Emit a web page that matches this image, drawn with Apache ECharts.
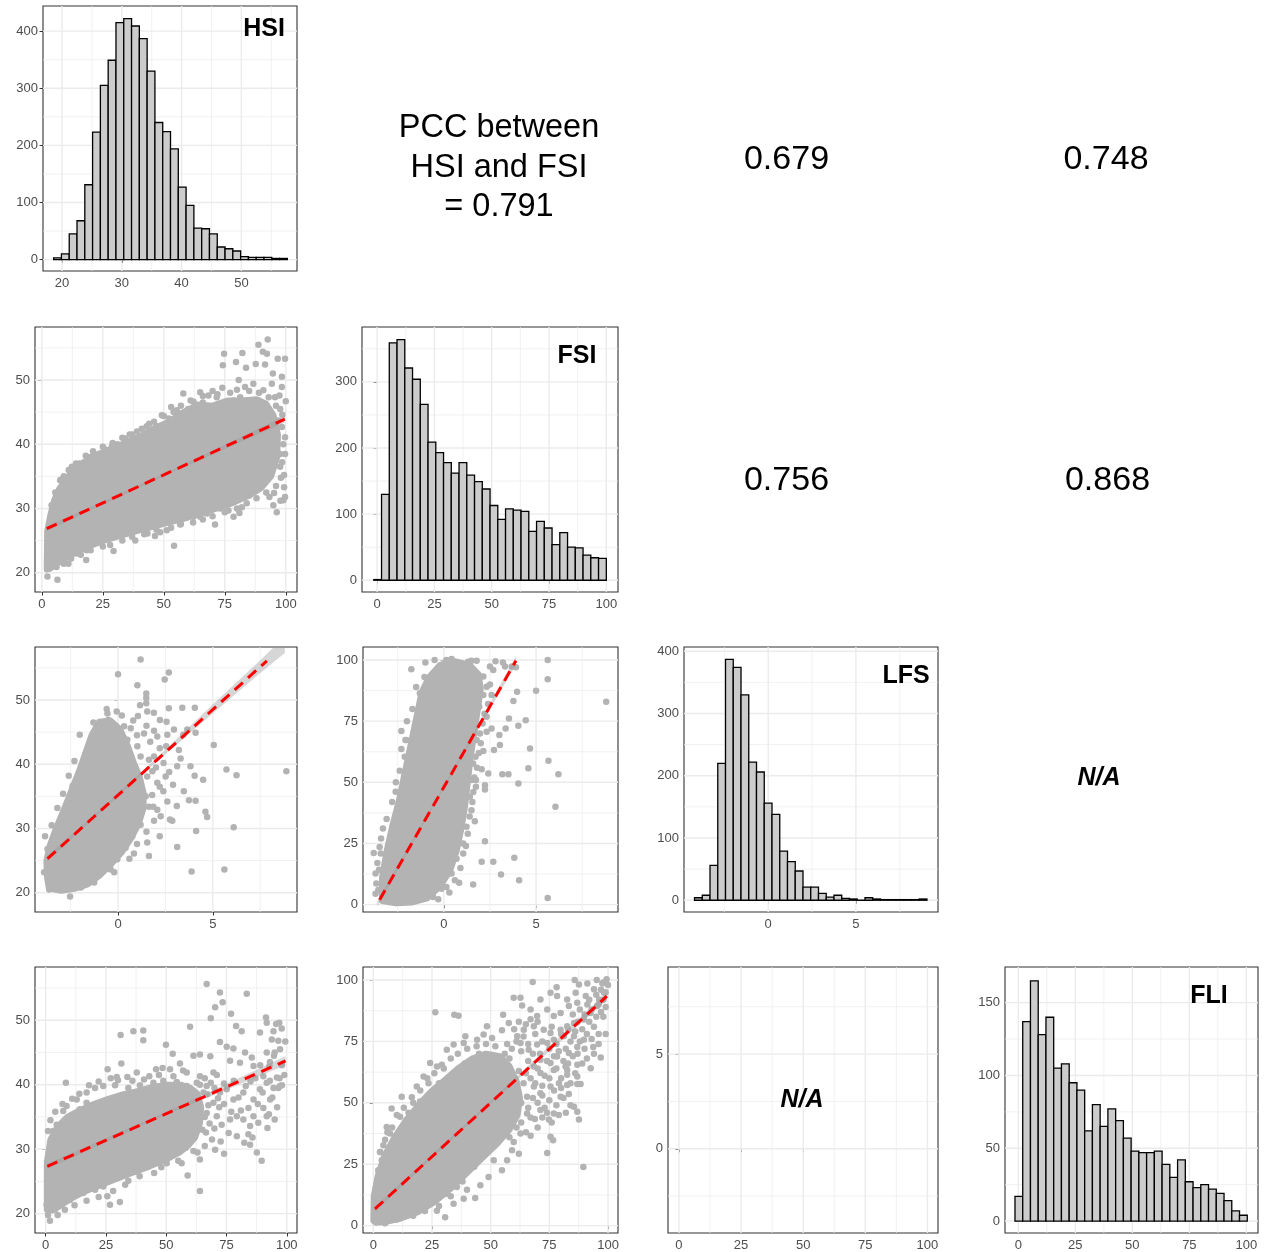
<!DOCTYPE html>
<html>
<head>
<meta charset="utf-8">
<script src="https://cdn.jsdelivr.net/npm/echarts@6/dist/echarts.min.js"></script>
<style>
  html, body { margin: 0; padding: 0; background: #ffffff; }
  #chart { width: 1267px; height: 1252px; }
</style>
</head>
<body>
<div id="chart"></div>
<script>
// ---------- histogram data: first bin edge, bin width, counts ----------
const hsiBinStart = 18.6, hsiBinWidth = 1.303;
const hsiCounts = [3, 10, 45, 68, 131, 223, 305, 349, 415, 422, 409, 387, 330, 240, 224, 194, 127, 95, 55, 54, 45, 22, 19, 15, 5, 4, 4, 4, 2, 2];

const fsiBinStart = -1.46, fsiBinWidth = 3.382;
const fsiCounts = [1, 130, 359, 364, 321, 304, 266, 209, 193, 178, 162, 178, 159, 149, 138, 113, 92, 108, 106, 104, 74, 89, 79, 54, 72, 50, 49, 38, 34, 33];

const lfsBinStart = -4.2, lfsBinWidth = 0.4417;
const lfsCounts = [4, 8, 56, 220, 387, 374, 330, 222, 206, 156, 138, 79, 62, 47, 21, 21, 11, 5, 8, 3, 2, 0, 4, 2, 1, 1, 1, 1, 1, 2];

const fliBinStart = -1.46, fliBinWidth = 3.395;
const fliCounts = [17, 137, 165, 128, 140, 105, 108, 95, 90, 62, 80, 65, 77, 69, 57, 48, 47, 47, 48, 39, 30, 42, 27, 23, 25, 22, 19, 14, 7, 4];

// ---------- tick labels ----------
const hsiTicks = [20, 30, 40, 50], hsiMinor = [25, 35, 45, 55];
const pctTicks = [0, 25, 50, 75, 100], pctMinor = [12.5, 37.5, 62.5, 87.5];
const lfsTicks = [0, 5], lfsMinor = [-2.5, 2.5, 7.5];
const count400Ticks = [0, 100, 200, 300, 400], count400Minor = [50, 150, 250, 350];
const count300Ticks = [0, 100, 200, 300], count300Minor = [50, 150, 250, 350];
const count150Ticks = [0, 50, 100, 150], count150Minor = [25, 75, 125];

// ---------- scatter: FSI (x) vs HSI (y) ----------
// dense core outline, then individual points around it
const coreFsiHsi = [[2,20.5],[4,20.8],[7,21.6],[10,22.3],[15,23.4],[20,24.2],[25,24.9],[30,25.5],[40,26.6],[50,27.6],[60,28.6],[70,29.8],[78,30.8],[85,32],[90,33.2],[94,35],[96.5,38],[96.8,41.5],[95,44.5],[92,46.3],[88,47],[82,46.8],[76,46.8],[70,46],[64,46.2],[58,45],[52,43.5],[46,42.5],[40,41.2],[34,40.2],[28,39.2],[22,38.3],[17,37.2],[13,36],[10,34.6],[7,33],[5,31.2],[3.5,29],[2.2,26.5]];
const ptsFsiHsi = [[74.7,54.1],[74.2,52.3],[88.8,55.5],[92.6,56.3],[82.2,54.2],[90.6,54.4],[92.3,54.1],[79.6,52.8],[83.7,51.9],[91.5,52.4],[96.7,53.3],[99.7,53.3],[87.7,52.5],[80.7,50.0],[94.7,51.0],[98.4,50.5],[98.4,48.9],[100,46.7],[99.7,41.1],[99.7,38.5],[99.3,35.2],[99.3,33.3],[99.7,31.8],[99,31.3],[94.9,30.5],[96.3,29.4],[93.3,31.8],[89.5,33.9],[86.7,33.1],[84.7,32.0],[82,30.2],[78.6,28.7],[81,29.3],[76.5,29.7],[71,27.5],[64.9,28.7],[62.2,28.7],[58.7,28.9],[56.7,27.5],[54.2,24.2],[46.4,25.7],[43.3,26.1],[38.3,25.0],[29.4,23.4],[18.4,23.5],[13.7,23.9],[18.2,22.0],[2.3,19.4],[6.4,18.9],[3.1,20.6],[5.5,21.1],[8.9,21.9],[10.9,21.4],[14.3,23.0],[23.9,24.8],[30,25.6],[34.8,26.5],[40.3,26.8],[48.5,26.3],[51.2,26.6],[67.6,29.2],[73.1,30],
  [7.5,34.4],[12.3,36.5],[19.8,38.0],[23.9,38.5],[28.7,39.6],[34.2,40.9],[41,42.4],[47.1,42.8],[49.2,44.5],[55.3,45.3],[58,47.9],[62.2,46.6],[64.9,48.1],[68.3,47.6],[71.7,47.3],[77.2,48.0],[81.3,47.3],[83.3,48.9],[86.7,49.4],[90.8,48.4],[94.3,49.4],[95.6,47.3],[88.8,46.8],[78.6,46.8],[84.7,45.8],[92.2,45.5],[97.7,45.5],[97,43.7],[98.4,42.7],[94.9,42.7],[92.2,42.2],[89.5,40.3],[94.9,39.6],[97.7,38.5],[97.7,36.5],[86.7,37.5],[88.1,35.9],[82.7,34.9],[78.6,33.3],[84,39.0],[75.8,43.7],[73.1,42.2],[79.2,42.2],[82.7,43.7],[86.7,43.7],
  [4,30.5],[5.5,32.5],[9,35],[15.5,37],[26,39.2],[31,40],[37,41.5],[44,43.2],[52,44],[53,45.8],[60,45.5],[66,46.5],[70,48.3],[74,48.8],[76,46.2],[94.5,37.7],[91,38.5],[96,41],[90,44.5],
  [8,34.5],[11,36],[14,37],[18,38.2],[21,38.9],[25,39.6],[29,40.2],[33,41],[36,41.5],[39,42],[43,42.8],[46,43.5],[50,44.4],[54,45],[57,46],[61,46.8],[66,47.5],[72,47.8],[80,48.5],[85,48.3],[89,48],[93,47.3],[96,46],
  [6,20.9],[9,21.4],[12,22.2],[16,22.8],[20,23.5],[25,24.1],[28,24.3],[33,25],[37,25.6],[42,26],[47,26.7],[53,27],[57,27.6],[62,27.8],[66,28.3],[70,28.8],[75,29.4],[80,30],[84,30.8],[88,31.6],[92,32.5],[96,33.5],[98,34.8],
  [98.5,37.2],[99,40],[98.6,44.6],[97.4,47.6],[95.2,32.4],[97.8,31.2]];
const fitFsiHsi = [[2,26.85],[99.6,43.9]];
const bandFsiHsi = [[2,26.5,27.2],[50,35.05,35.35],[99.6,43.4,44.4]];

// ---------- scatter: LFS (x) vs HSI (y) ----------
const coreLfsHsi = [[-3.65,20.7],[-3.0,20.3],[-2.3,20.6],[-1.6,21.3],[-1.0,22.6],[-0.4,24.3],[0.2,26.3],[0.7,28.5],[1.1,30.8],[1.35,33.2],[1.35,35.5],[1.15,38],[0.8,40.5],[0.5,43],[0.1,45.5],[-0.4,46.8],[-1.0,46.6],[-1.4,44.5],[-1.7,42],[-2.05,39],[-2.45,36],[-2.85,33],[-3.25,30.2],[-3.6,27.4],[-3.78,25],[-3.75,22.5]];
const ptsLfsHsi = [[1.19,56.3],[0,54.0],[2.68,54.3],[2.46,53.2],[1.02,52.3],[1.49,51.0],[1.49,50.3],[1.16,49.2],[1.49,49.5],[3.39,48.8],[2.68,48.7],[4.05,48.8],[1.54,48.2],[1.89,48.0],[1.05,47.5],[-0.56,47.9],[-0.07,48.2],[-0.51,46.9],[-2.02,44.6],[-1.09,45.3],[-0.47,45.3],[0.32,45.9],[0.67,45.6],[1.37,44.8],[2.21,46.9],[2.56,46.6],[2.95,45.4],[3.65,45.4],[4.09,44.9],[3.44,44.6],[2.6,44.6],[2.07,44.3],[2.54,42.8],[3.21,42.2],[3.3,40.9],[3.12,39.7],[3.82,39.7],[5.05,43.0],[5.72,39.2],[6.25,38.3],[8.88,38.9],[4.04,38.2],[4.49,37.6],[2.51,38.1],[2.07,37.1],[2.39,35.8],[3.47,35.8],[3.74,34.4],[4.09,34.3],[1.86,33.4],[2.25,31.9],[2.07,32.9],[2.74,31.4],[2.86,31.2],[4.12,29.6],[4.61,32.6],[4.7,31.8],[6.1,30.2],[3.12,27.1],[1.54,27.8],[1.63,25.7],[0.84,26.1],[3.88,23.3],[5.61,23.6],
  [-3.72,26.8],[-3.67,24.4],[-3.63,20.5],[-2.53,19.4],[-1.88,21.7],[-1.53,22.2],[-0.95,23.1],[-0.56,24.6],[-1.7,22.5],[-3.02,21.9],[-3.23,23.6],[-3.42,26.2],[-2.93,27.7],[-3.37,28.3],[-2.96,28.5],[-2.96,31.8],[-2.58,32.0],[-2.4,33.1],[-2.11,35],[-2.4,36.6],[-1.96,37.6],[-1.82,38.1],[-1.58,41],[-1.35,42.5],[-0.91,42.2],[-0.91,44.0],[-0.12,44.3],[0.49,43.8],[1.02,42.8],[1.19,41.2],[1.63,40.7],[1.81,38.9],[1.54,38.1],[1.19,36.5],[1.46,35],[1.63,33.4],[1.19,30.6],[0.75,28.8],[0.4,27],[-0.04,25.2],[-0.39,23.6],[-1.26,21.6],[-1.96,20.8],
  [-1.3,46.5],[-0.6,48.6],[0.2,47.6],[0.8,46.8],[1.5,46],[1.9,45.2],[1.0,44.5],[1.7,43.5],[2.2,42.5],[1.9,41.2],[2.4,40.2],[2.0,39.5],[2.7,38.8],[2.2,36.5],[2.9,36.8],[1.8,35.2],[2.6,34.2],[3.1,33.5],[1.9,31.2],[1.5,29.5],[2.2,28.8],[-2.3,40.5],[-2.6,38.2],[-2.9,35.4],[-3.2,33.2],[-3.5,30.5],[-3.85,28.8],[-3.9,23.2],[-0.2,23.2],[0.6,25.3],[1.0,27.6]];
const fitLfsHsi = [[-3.72,25.3],[7.85,56.1]];
const bandLfsHsi = [[-3.75,24.85,25.75],[-1,32.35,32.75],[2,40.3,40.9],[5,47.9,49.3],[7.5,54.2,56.2],[8.8,57.3,59.9]];

// ---------- scatter: LFS (x) vs FSI (y) ----------
const coreLfsFsi = [[-3.35,1.5],[-2.6,0.6],[-1.7,0.9],[-0.9,2.6],[-0.2,7.5],[0.35,14],[0.7,22],[0.95,31],[1.15,40],[1.3,50],[1.45,60],[1.65,70],[1.85,80],[2.0,88],[1.9,94],[1.4,98],[0.6,99.5],[-0.2,98],[-0.8,93],[-1.2,87],[-1.45,78],[-1.7,69],[-1.95,60],[-2.2,51],[-2.45,42],[-2.8,32],[-3.1,22],[-3.35,11]];
const ptsLfsFsi = [[-1.76,96.2],[0.05,98.6],[0.14,100],[0.42,100.4],[0.92,98.6],[1.32,99.3],[1.5,99.7],[1.78,99.7],[2.5,97.3],[2.68,95.9],[3.32,97.3],[3.68,97.3],[3.91,97],[5.63,100],[5.63,92.1],[5.0,87.4],[3.97,87],[3.77,83.2],[3.53,76.1],[4.44,75.4],[4.04,73.1],[3.35,72],[3.01,69.3],[3.04,65.2],[4.67,63.8],[2.72,63.2],[2.14,62.8],[5.67,58.8],[4.58,55.7],[2.05,55.3],[2.41,53.6],[3.17,53.3],[3.5,53.3],[4.04,49.5],[6.21,53.3],[6.05,40],[2.23,48.8],[2.23,47.1],[1.74,48.2],[1.68,34.1],[2.23,25.9],[2.05,17.5],[2.68,17.5],[3.82,19.2],[3.1,12.3],[4.08,10],[1.59,8.2],[0.83,9.0],[5.63,2.7],[8.8,82.9],[-3.3,31.1],[-3.42,20.9],[-3.8,21.1],[-3.48,23.6],[-3.7,12.7],[-3.66,8.6],[-3.7,4.5],[-3.51,14.3],[-2.3,63.6],[-2.08,67.3],[-2.12,60.4],[-2.39,54.7],[-2.61,46.1],[-2.52,39.3],[-1.3,86.4],[-1.21,83.6],[-1.3,80.9],[-1.39,77.5],[-1.58,70],[-2.03,67.3],
  [2.14,93.2],[2.32,89.1],[2.14,85.7],[2.59,85.7],[1.92,80.9],[2.32,76.8],[2.59,72],[1.96,70],[2.32,70.7],[1.78,67.3],[1.72,60.4],[1.59,57.7],[1.5,50.9],[1.74,50.9],[1.41,44.1],[1.5,38.6],[1.23,31.8],[1.05,25],[1.05,20.9],[0.69,18.8],[0.42,12.7],[0.14,7.2],[-0.13,6.5],[-0.58,3.1],
  [-0.76,91.8],[-0.4,95.2],[-0.22,97.3],[0.87,95.9],[1.23,93.2],[0.51,91.8],[0.69,89.1],[-0.85,86.4],[-0.76,87.7],
  [2.5,90],[2.4,82],[2.2,78],[2.1,74],[2.0,66],[1.9,62],[1.8,56],[1.65,52],[1.6,46],[1.55,42],[1.4,36],[1.3,29],[1.2,24],[0.9,15],[0.6,10],[0.3,5],[-0.3,2.2],[-2.3,71],[-2.0,75],[-1.7,80],[-1.5,89],[-1.05,93],[-2.6,50],[-2.8,42],[-3.1,35],[-3.4,27],[-3.6,17],[-3.55,6],[-1.0,99],[-0.5,100],[2.8,99.5],[3.2,99]];
const fitLfsFsi = [[-3.48,2.0],[3.91,99.7]];
const bandLfsFsi = [[-3.6,-0.8,1.8],[-1,34.3,35.5],[1,60.6,61.8],[3.91,98,101.5]];

// ---------- scatter: FLI (x) vs HSI (y) ----------
const coreFliHsi = [[0.5,20.6],[3,20.5],[6,21.2],[10,22.2],[15,23.2],[20,24],[28,25.2],[35,26.2],[43,27.3],[50,28.4],[56,29.6],[59,30.5],[62,31.8],[64,34],[64.5,36.5],[63,38.6],[60,39.5],[56,40],[50,40],[44,39.6],[38,39],[32,38.5],[26,37.8],[20,37],[14,36],[9,35],[5,33.5],[2,31.5],[0.5,28]];
const ptsFliHsi = [[66.8,55.6],[72.3,54.3],[73.4,52.8],[83.4,54.1],[70.3,52],[68.5,50.3],[76.9,51],[79,49.1],[81.3,48.3],[59.9,49],[36.4,48.3],[40.5,48.4],[40.5,46.9],[31.1,47.7],[49.9,46.2],[52.7,44.8],[8.4,40.3],[25.7,42.4],[31.4,43.3],[29.5,41.2],[33.9,41.2],[37.8,41.9],[40.8,40.8],[45.8,42.4],[48.5,42.6],[51.6,42.4],[55.7,43.3],[61.3,44.5],[64,44.7],[68.3,44.4],[72.3,46.6],[75.1,45.9],[77.9,45.6],[82.7,45],[85.5,44.2],[86.2,42.9],[80.6,43.4],[76.5,43.7],[69.6,41.9],[64,41.3],[58.5,41.9],[88.9,48.1],[91.7,49.6],[91.4,50.4],[95.6,49.4],[96.9,49.6],[97.9,48.7],[94.5,48.3],[99.4,46.7],[96.5,46.8],[93.8,47],[97.2,45.5],[91.7,45],[94.7,44.5],[92.8,42.9],[95.9,41.1],[91.7,40.3],[96.5,39.5],[94.5,39.5],[97.2,39.8],[90.3,41.3],[88.9,39.3],[86.2,37.7],[84.1,36.4],[82,34.6],[84.8,33.6],[86.2,35.1],[88.2,34.1],[91.7,35.1],[92.6,35.4],[93.1,37.7],[90.3,36.4],[84.1,32.3],[85.8,31.8],[84.8,30.7],[82.4,31],[79.3,32],[75.9,32.5],[72.6,31.2],[70.3,29.9],[74,29.3],[87.6,29.5],[89.6,28.2],[76.5,34.6],[79.3,35.1],[71,35.1],[66.8,35.6],[69.6,37.2],[77.9,37.7],[82,38.8],[75.1,39.3],[64,28.4],[61.3,29.7],[58.9,25.9],[64,23.5],[56.4,27.8],[50.2,27.8],[43.3,27.6],[41.2,28.9],[37.8,26.5],[34.3,25.1],[30.8,21.8],[25.6,22.7],[26.7,21.4],[23.9,24.2],[23.2,25],[20.5,23.7],[19.8,24.8],[15.6,23.2],[10.1,22.1],[7.3,22.7],[5.3,22.2],[1.8,18.9],[3.9,20.7],[0.4,21.4],[1.1,22.7],[14.2,24.2],[12.2,25.3],
  [4.6,33.8],[3.2,32.8],[7.3,35.9],[8.7,36.7],[12.9,37.7],[17,38.8],[20.5,39.5],[23.9,39.8],[28.8,39.9],[34.3,39.5],[39.1,39.9],[44.7,40.3],[48.8,40.6],[54.4,40.4],[58.5,39.8],[62.7,40.3],[66.8,39.8],[72.3,38.8],[17,37.2],[14.2,36.2],
  [60,32],[62,34],[63,36.5],[61,38],[64,40],[66,41],[67,38.5],[68,34],[69,31.5],[65,33],[70,39.5],[72,36.5],[73,33.8],[71,41.5],[74,40.2],[74,37],[77,35.8],[78,40.6],[80,38],[81,36],[83,39.8],[85,40.5],[87,41],[89,43],[93,43.5],[95,45],[98,43],[99,41.5],[97,41],[93,40.6],[88,37],[90,38.8],[94,38],[96,36.5],[92,33.3],[95,34.6],[98,39.9],[57,42.2],[53,41.3],[47,41.5],[43,41.3],[36,40.6],[30,40.7],[27,41],[22,40.5],[18,39.9],[14,38.6],[11,37.8],[7,37],[4,35.8],[2,34.5],[1,32.8],[58,30.2],[63,29.5],[66,30.5],[55,28.2],[48,27.2],[45,26.3],[39,25.8],[33,24.5],[28,23.5],[22,22.6],[17,22],[12,21.3],[8,20.6],[5,19.8],[1,19.8],
  [66,35],[67.5,36.8],[66.5,32.6],[65.5,38.8],[68.5,40.3],[70,33.2],[71.5,37.9]];
const fitFliHsi = [[0.7,27.35],[99.5,43.7]];
const bandFliHsi = [[0.7,26.95,27.75],[50,35.35,35.75],[99.5,43.0,44.4]];

// ---------- scatter: FLI (x) vs FSI (y) ----------
const coreFliFsi = [[0,2],[0.2,12],[1.8,20],[4.5,28],[9,36],[14,43],[20,50],[25,55],[30,59],[36,64],[42,68],[48,70],[54,69],[58,65],[61,59],[62.5,52],[61.5,45],[58,39],[53,33.5],[47,28],[40,21.5],[33,15],[26,9.5],[19,5.5],[12,3],[6,1.6],[1,1.2]];
const ptsFliFsi = [[67.9,99.2],[78.1,97.1],[85.8,100],[87.6,98.2],[91.2,98.6],[95.2,100],[97.6,98.6],[99.4,100.3],[94,96.2],[90.5,93.5],[86.2,94.8],[82.6,92.1],[78.3,93.5],[75.5,94.8],[71.2,92.1],[63.4,89.6],[59.8,92.8],[55.3,85.9],[57.7,82.5],[54.8,79.5],[48.4,81.2],[50.6,76.4],[47,77.8],[44.2,75.7],[39.2,77.1],[38.5,74.4],[34.2,73.7],[31.3,71.6],[26.4,86.9],[34.5,85.9],[36.3,85.5],[24.2,66.2],[27.1,64.8],[29.2,65.5],[21.4,60.7],[23.5,58],[18.5,56.6],[12.1,52.5],[16.4,52.3],[19.9,50.5],[7.8,47.7],[11.4,44.3],[14.2,43],[5.7,40.2],[7.1,37.5],[4.3,32.7],[2.8,30],[3.6,26.6],[2.1,22.5],[62.7,92.8],[67,88],[69.8,85.3],[74.1,88],[76.9,85.3],[79.8,86.6],[83.3,89.4],[86.9,90.7],[91.2,90],[95.4,89.4],[98.3,94.8],[96.2,92.1],[92.6,86.6],[89.7,83.9],[85.5,82.5],[82.6,81.2],[79.8,79.8],[75.5,78.4],[72.6,79.8],[68.4,81.2],[64.1,79.8],[61.3,77.1],[62.7,74.4],[66.2,71.6],[69.8,73.7],[74.1,74.4],[76.9,75.7],[81.2,77.1],[85.5,77.1],[89.7,75.7],[93.7,72.7],[86.9,72.7],[83.3,70.3],[78.3,68.9],[75.5,66.2],[71.2,67.5],[68.4,64.8],[71.2,62.1],[76.9,63.4],[81.9,64.8],[86.9,65.5],[96.9,68.5],[92.6,64.1],[86.9,60.7],[82.6,63.4],[82.6,61.4],[79.1,58],[82.6,57.3],[86.9,57.7],[88.3,57.7],[83.3,53.6],[79.8,52.5],[75.5,56.6],[71.2,53.9],[68.4,56.6],[65.5,52.5],[62.7,49.8],[65.5,45.7],[71.2,47.1],[76.9,45.7],[85.5,48.4],[86.9,46.4],[87.6,43.2],[74.8,43.2],[68.8,43.4],[75.5,36.2],[67,36.6],[62.7,37.5],[59.8,34.1],[59.1,30.7],[62,29.3],[57,26.6],[51.3,26.6],[54.8,22.5],[49.1,19.8],[45.6,16.4],[43.4,11.3],[39.9,14.6],[38.5,10.9],[74.1,29.6],[76.6,34.8],[89.5,23.9],[30.6,3.4],[27.1,6.1],[24.2,10.2],[34.2,8.9],[31.3,13],[35.6,15.7],[14.2,10.2],[7.8,7.5],[3.6,4.8],
  [60,60],[62,63],[64,58],[65,62],[66,67],[67,60],[68,70],[69,58],[70,64],[71,70],[72,75],[72,57],[73,61],[74,67],[75,72],[75,60],[76,81],[77,69],[78,64],[78,74],[79,71],[80,78],[80,60],[81,67],[82,72],[83,80],[83,66],[84,75],[85,86],[85,69],[86,79],[87,83],[87,70],[88,75],[88,88],[89,80],[90,86],[90,72],[91,78],[92,83],[92,92],[93,88],[93,76],[94,81],[95,94],[95,85],[96,90],[96,78],[97,96],[97,87],[98,92],[98,99],[99,95],[99,89],[100,98],
  [56,70],[57,74],[58,68],[59,72],[61,75],[63,71],[64,77],[60,80],[62,83],[65,82],[67,84],[70,83],[66,74],[69,78],[58,52],[60,47],[63,50],[66,48],[68,52],[70,50],[72,53],[73,48],[75,51],[77,55],[78,49],[80,56],[81,52],[84,58],[86,62],[89,66],[91,68],[94,70],[96,74],[99,78],[98,85],
  [55,40],[58,36],[61,40],[63,42],[65,38],[67,44],[70,40],[72,44],[74,46],[76,42],[79,45],[82,46],[84,49],[50,35],[46,30],[43,24],[38,18],[33,12],[28,8],[22,6],[17,4],[10,2.5],[5,1],
  [3,30],[5,35],[8,40],[10,45],[13,48],[17,50],[20,55],[23,60],[26,62],[30,64],[33,68],[36,70],[40,72],[44,73],[48,74],[52,73],[15,46],[6,38],[28,58],[34,62],[39,66],[45,70]];
const fitFliFsi = [[0.7,6.8],[99.5,93.4]];
const bandFliFsi = [[0.7,5.8,7.8],[50,49.7,50.7],[99.5,91.8,95]];

// ---------- correlation texts ----------
const pccMain = ['PCC between', 'HSI and FSI', '= 0.791'];
const pccValues = { hsiLfs: '0.679', hsiFli: '0.748', fsiLfs: '0.756', fsiFli: '0.868' };
const naLabel = 'N/A';

// ---------- drawing ----------
const FONT = '"Liberation Sans", Arial, Helvetica, sans-serif';
const GRID_COLOR = '#EBEBEB';
const POINT_COLOR = '#B3B3B3';

// panel rectangles [left, top, width, height] and axis extents
const panels = [
  { rect: [43, 6, 254, 265],    x: [16.82, 59.3],  y: [-20, 444],    xt: hsiTicks, xm: hsiMinor, yt: count400Ticks, ym: count400Minor },
  { rect: [35, 327, 262, 265],  x: [-2.8, 104.6],  y: [17.0, 58.25], xt: pctTicks, xm: pctMinor, yt: hsiTicks, ym: hsiMinor },
  { rect: [362, 327, 256, 265], x: [-6.6, 105.1],  y: [-17.8, 383],  xt: pctTicks, xm: pctMinor, yt: count300Ticks, ym: count300Minor },
  { rect: [35, 647, 262, 265],  x: [-4.38, 9.44],  y: [17.0, 58.25], xt: lfsTicks, xm: lfsMinor, yt: hsiTicks, ym: hsiMinor },
  { rect: [363, 647, 255, 265], x: [-4.38, 9.44],  y: [-3.0, 105.3], xt: lfsTicks, xm: lfsMinor, yt: pctTicks, ym: pctMinor },
  { rect: [684, 647, 254, 265], x: [-4.8, 9.68],   y: [-18.9, 406.8], xt: lfsTicks, xm: lfsMinor, yt: count400Ticks, ym: count400Minor },
  { rect: [35, 967, 262, 266],  x: [-4.4, 104.25], y: [17.0, 58.25], xt: pctTicks, xm: pctMinor, yt: hsiTicks, ym: hsiMinor },
  { rect: [363, 967, 255, 266], x: [-4.4, 104.25], y: [-3.0, 105.3], xt: pctTicks, xm: pctMinor, yt: pctTicks, ym: pctMinor },
  { rect: [668, 967, 270, 266], x: [-4.4, 104.25], y: [-4.45, 9.6],  xt: pctTicks, xm: pctMinor, yt: lfsTicks, ym: lfsMinor },
  { rect: [1005, 967, 253, 266], x: [-5.84, 105.1], y: [-8.2, 174.5], xt: pctTicks, xm: pctMinor, yt: count150Ticks, ym: count150Minor }
];

const grids = [], xAxes = [], yAxes = [], series = [];

panels.forEach((p, i) => {
  grids.push({
    left: p.rect[0], top: p.rect[1], width: p.rect[2], height: p.rect[3],
    show: true, backgroundColor: '#ffffff', borderColor: '#333333', borderWidth: 1.1,
    containLabel: false, outerBoundsMode: 'none'
  });
  const common = (ticks, margin) => ({
    axisLine: { show: false },
    splitLine: { show: false },
    axisTick: { show: true, customValues: ticks, length: 3.5, lineStyle: { color: '#333333', width: 1 } },
    axisLabel: { customValues: ticks, color: '#4D4D4D', fontSize: 13, fontFamily: FONT, margin }
  });
  xAxes.push(Object.assign({ gridIndex: i, type: 'value', min: p.x[0], max: p.x[1] }, common(p.xt, 6)));
  yAxes.push(Object.assign({ gridIndex: i, type: 'value', min: p.y[0], max: p.y[1] }, common(p.yt, 5)));

  // background grid lines (minor first, then major)
  const lines = [];
  p.xm.forEach(v => lines.push([v, 0, 0]));
  p.ym.forEach(v => lines.push([v, 1, 0]));
  p.xt.forEach(v => lines.push([v, 0, 1]));
  p.yt.forEach(v => lines.push([v, 1, 1]));
  series.push({
    type: 'custom', xAxisIndex: i, yAxisIndex: i, z: 1, silent: true, clip: true,
    data: lines,
    renderItem(params, api) {
      const v = api.value(0), vertical = api.value(1) === 0, major = api.value(2) === 1;
      const a = vertical ? api.coord([v, p.y[0]]) : api.coord([p.x[0], v]);
      const b = vertical ? api.coord([v, p.y[1]]) : api.coord([p.x[1], v]);
      return { type: 'line', shape: { x1: a[0], y1: a[1], x2: b[0], y2: b[1] },
               style: { stroke: GRID_COLOR, lineWidth: major ? 1.4 : 0.7 } };
    }
  });
});

function histSeries(gi, start, width, counts) {
  return {
    type: 'custom', xAxisIndex: gi, yAxisIndex: gi, z: 3, silent: true, clip: true,
    data: counts.map((c, k) => [start + k * width, start + (k + 1) * width, c]),
    renderItem(params, api) {
      const a = api.coord([api.value(0), 0]);
      const b = api.coord([api.value(1), api.value(2)]);
      return { type: 'rect', shape: { x: a[0], y: b[1], width: b[0] - a[0], height: a[1] - b[1] },
               style: { fill: '#CCCCCC', stroke: '#000000', lineWidth: 1.3 } };
    }
  };
}

function polygonSeries(gi, pts, style, z) {
  return {
    type: 'custom', xAxisIndex: gi, yAxisIndex: gi, z, silent: true, clip: true,
    data: pts,
    renderItem(params, api) {
      if (params.dataIndex !== 0) return null;
      return { type: 'polygon', shape: { points: pts.map(q => api.coord(q)) }, style };
    }
  };
}

function scatterPanel(gi, core, pts, fit, band) {
  series.push(polygonSeries(gi, core, { fill: POINT_COLOR, stroke: POINT_COLOR, lineWidth: 6, lineJoin: 'round' }, 2));
  series.push({
    type: 'scatter', xAxisIndex: gi, yAxisIndex: gi, z: 3, silent: true,
    symbolSize: 6.5, itemStyle: { color: POINT_COLOR, opacity: 1 }, data: pts
  });
  const bandPoly = band.map(b => [b[0], b[2]]).concat(band.slice().reverse().map(b => [b[0], b[1]]));
  series.push(polygonSeries(gi, bandPoly, { fill: 'rgba(153,153,153,0.4)' }, 4));
  series.push({
    type: 'line', xAxisIndex: gi, yAxisIndex: gi, z: 5, silent: true, clip: true,
    symbol: 'none', data: fit,
    lineStyle: { color: '#FF0000', width: 3, type: [11, 7] }
  });
}

series.push(histSeries(0, hsiBinStart, hsiBinWidth, hsiCounts));
series.push(histSeries(2, fsiBinStart, fsiBinWidth, fsiCounts));
series.push(histSeries(5, lfsBinStart, lfsBinWidth, lfsCounts));
series.push(histSeries(9, fliBinStart, fliBinWidth, fliCounts));

scatterPanel(1, coreFsiHsi, ptsFsiHsi, fitFsiHsi, bandFsiHsi);
scatterPanel(3, coreLfsHsi, ptsLfsHsi, fitLfsHsi, bandLfsHsi);
scatterPanel(4, coreLfsFsi, ptsLfsFsi, fitLfsFsi, bandLfsFsi);
scatterPanel(6, coreFliHsi, ptsFliHsi, fitFliHsi, bandFliHsi);
scatterPanel(7, coreFliFsi, ptsFliFsi, fitFliFsi, bandFliFsi);

function txt(text, x, y, font) {
  return {
    type: 'text', x, y, z: 100, silent: true,
    style: { text, font, fill: '#000000', align: 'center', verticalAlign: 'middle',
             textAlign: 'center', textVerticalAlign: 'middle' }
  };
}

const titleFont = 'bold 25px ' + FONT;
const naFont = 'italic bold 25px ' + FONT;
const pccFont = '32.5px ' + FONT;
const valFont = '34px ' + FONT;

const graphic = [
  txt('HSI', 264, 29.5, titleFont),
  txt('FSI', 577, 356.5, titleFont),
  txt('LFS', 906, 676.5, titleFont),
  txt('FLI', 1209, 996.5, titleFont),
  txt(pccMain[0], 499, 128.3, pccFont),
  txt(pccMain[1], 499, 168, pccFont),
  txt(pccMain[2], 499, 207.5, pccFont),
  txt(pccValues.hsiLfs, 786.5, 159.2, valFont),
  txt(pccValues.hsiFli, 1106, 159.2, valFont),
  txt(pccValues.fsiLfs, 786.5, 480.2, valFont),
  txt(pccValues.fsiFli, 1107.5, 480.2, valFont),
  txt(naLabel, 1099, 778, naFont),
  txt(naLabel, 802, 1100.5, naFont)
];

const chart = echarts.init(document.getElementById('chart'), null, { renderer: 'canvas' });
chart.setOption({
  animation: false,
  backgroundColor: '#ffffff',
  grid: grids,
  xAxis: xAxes,
  yAxis: yAxes,
  series,
  graphic
});
</script>
</body>
</html>
